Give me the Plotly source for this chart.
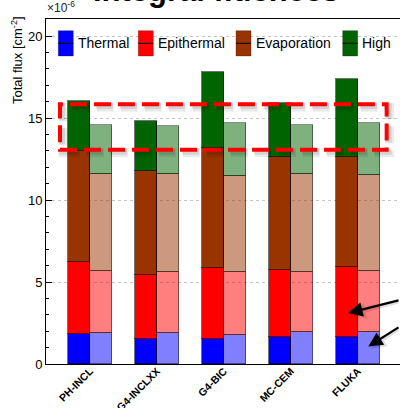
import plotly.graph_objects as go

# Integral fluence per model, split by energy group (units of 1e-6 cm^-2)
models = ["PH-INCL", "G4-INCLXX", "G4-BIC", "MC-CEM", "FLUKA"]
components = ["Thermal", "Epithermal", "Evaporation", "High"]

# first configuration (solid bars)
thermal_a = [1.83, 1.52, 1.50, 1.65, 1.65]
epithermal_a = [4.37, 3.94, 4.37, 4.10, 4.26]
evaporation_a = [6.80, 6.33, 7.32, 6.89, 6.69]
high_a = [3.04, 3.05, 4.63, 3.31, 4.80]

# second configuration (faded bars)
thermal_b = [1.89, 1.87, 1.77, 1.93, 1.93]
epithermal_b = [3.76, 3.74, 3.84, 3.68, 3.72]
evaporation_b = [5.97, 6.01, 5.87, 5.99, 5.87]
high_b = [2.98, 2.91, 3.25, 2.97, 3.21]

y_ticks = [0, 5, 10, 15, 20]

colors = {"Thermal": (0, 0, 255), "Epithermal": (255, 0, 0),
          "Evaporation": (153, 51, 0), "High": (0, 100, 0)}

series_a = dict(zip(components, [thermal_a, epithermal_a, evaporation_a, high_a]))
series_b = dict(zip(components, [thermal_b, epithermal_b, evaporation_b, high_b]))

W, H = 400, 408
ML, MR, MT, MB = 46, 0, 19, 44
PW, PH = W - ML - MR, H - MT - MB
X_RANGE = [-0.657, 4.627]
Y_RANGE = [0, 21.05]


def px_x(px):
    return (px - ML) / PW


def px_y(py):
    return (H - MB - py) / PH


fig = go.Figure()
idx = list(range(len(models)))
bw = 1 / 3

for comp in components:
    r, g, b = colors[comp]
    fig.add_trace(go.Bar(
        x=[i - bw / 2 for i in idx], y=series_a[comp], width=bw,
        marker=dict(color=f"rgb({r},{g},{b})",
                    line=dict(color="rgba(0,0,0,0.55)", width=1)),
        name=comp, showlegend=False))
    fig.add_trace(go.Bar(
        x=[i + bw / 2 for i in idx], y=series_b[comp], width=bw,
        marker=dict(color=f"rgba({r},{g},{b},0.5)",
                    line=dict(color="rgba(0,0,0,0.45)", width=1)),
        name=comp + " (2)", showlegend=False))

shapes = []
annotations = []

# dashed highlight box around the high-energy component, with a soft shadow
box_x0, box_x1 = -0.448, 4.428
box_y0, box_y1 = 13.07, 15.85
for off, col, w in [(3, "rgba(0,0,0,0.08)", 9), (2, "rgba(0,0,0,0.10)", 6)]:
    shapes.append(dict(type="rect", xref="x", yref="y",
                       x0=box_x0 + off / 67, x1=box_x1 + off / 67,
                       y0=box_y0 - off / 16.4, y1=box_y1 - off / 16.4,
                       line=dict(color=col, width=w, dash="17px,7px")))
shapes.append(dict(type="rect", xref="x", yref="y",
                   x0=box_x0, x1=box_x1, y0=box_y0, y1=box_y1,
                   line=dict(color="red", width=4, dash="17px,7px")))

# legend row
legend_items = [("Thermal", 58.3), ("Epithermal", 138.3),
                ("Evaporation", 236.0), ("High", 342.7)]
for comp, lx in legend_items:
    r, g, b = colors[comp]
    shapes.append(dict(type="rect", xref="paper", yref="paper",
                       x0=px_x(lx), x1=px_x(lx + 15), y0=px_y(56), y1=px_y(30.7),
                       fillcolor=f"rgb({r},{g},{b})",
                       line=dict(color="rgba(0,0,0,0.25)", width=1)))
    shapes.append(dict(type="line", xref="paper", yref="paper",
                       x0=px_x(lx), x1=px_x(lx + 15), y0=px_y(43.3), y1=px_y(43.3),
                       line=dict(color="black", width=1)))
    annotations.append(dict(text=comp, xref="paper", yref="paper",
                            x=px_x(lx + 17.5), y=px_y(43.5), xanchor="left",
                            yanchor="middle", showarrow=False,
                            font=dict(size=14, color="black")))

# arrows pointing at the epithermal and thermal parts of FLUKA
for tx, ty, ax, ay in [(3.855, 3.11, 82, -13), (4.154, 1.07, 62, -20)]:
    annotations.append(dict(x=tx + 0.03, y=ty - 0.12, xref="x", yref="y",
                            ax=ax, ay=ay, axref="pixel", ayref="pixel",
                            text="", showarrow=True, arrowhead=2, arrowsize=1.3,
                            arrowwidth=2.4, arrowcolor="rgba(0,0,0,0.12)",
                            standoff=0))
    annotations.append(dict(x=tx, y=ty, xref="x", yref="y",
                            ax=ax, ay=ay, axref="pixel", ayref="pixel",
                            text="", showarrow=True, arrowhead=2, arrowsize=1.3,
                            arrowwidth=2.2, arrowcolor="black", standoff=0))

# title, partly cut by the top edge
annotations.append(dict(text="<b>Integral fluences</b>", xref="paper", yref="paper",
                        x=px_x(216), y=px_y(10), xanchor="center", yanchor="bottom",
                        showarrow=False, font=dict(size=31, color="black")))
# exponent label
annotations.append(dict(text="×10<sup>-6</sup>", xref="paper", yref="paper",
                        x=px_x(45), y=px_y(17), xanchor="left", yanchor="bottom",
                        showarrow=False, font=dict(size=12, color="#222")))
# y-axis title
annotations.append(dict(text="Total flux [cm<sup>-2</sup>]", xref="paper", yref="paper",
                        x=px_x(17), y=px_y(14), xanchor="center", yanchor="top",
                        textangle=-90, showarrow=False,
                        font=dict(size=13, color="black")))

fig.update_layout(
    width=W, height=H,
    margin=dict(l=ML, r=MR, t=MT, b=MB, pad=0),
    barmode="stack", bargap=0,
    plot_bgcolor="white", paper_bgcolor="white",
    font=dict(family="Liberation Sans, Arial, sans-serif", color="black"),
    shapes=shapes, annotations=annotations,
    xaxis=dict(range=X_RANGE, showgrid=False, zeroline=False, automargin=False,
               showline=True, linecolor="black", linewidth=1, mirror=True,
               tickvals=idx, ticktext=[f"<b>{m}</b>" for m in models],
               tickangle=-45, ticks="", ticklabelstandoff=-4,
               tickfont=dict(size=10.5)),
    yaxis=dict(range=Y_RANGE, tickvals=y_ticks, showgrid=True, automargin=False,
               gridcolor="#c4c4c4", griddash="dot", gridwidth=1,
               zeroline=False, showline=True, linecolor="black", linewidth=1,
               ticks="inside", ticklen=6, tickcolor="black",
               minor=dict(ticks="inside", ticklen=3, dtick=1, tickcolor="black",
                          showgrid=False),
               tickfont=dict(size=13)),
)

fig.write_html("out.html")
